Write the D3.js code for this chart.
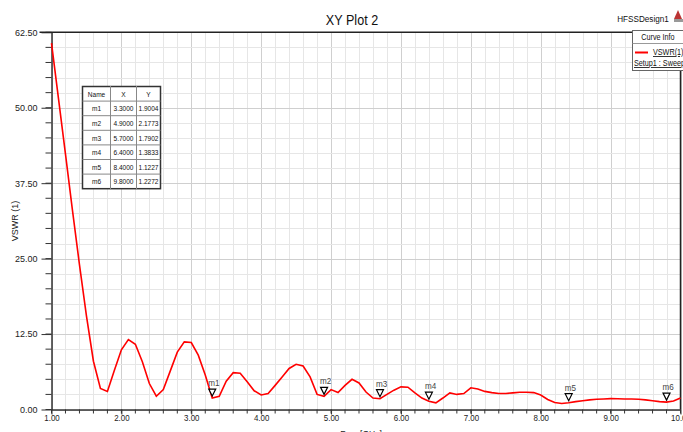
<!DOCTYPE html>
<html><head><meta charset="utf-8">
<script src="https://cdn.jsdelivr.net/npm/d3@7"></script>
<style>
html,body{margin:0;padding:0;background:#fff;}
svg{display:block;}
text{font-family:"Liberation Sans Narrow","Arial Narrow","Liberation Sans",Arial,sans-serif;}
</style></head>
<body><svg id="c" width="683" height="432"></svg>
<script>
const freq = [1.0,1.1,1.2,1.3,1.4,1.5,1.6,1.7,1.8,1.9,2.0,2.1,2.2,2.3,2.4,2.5,2.6,2.7,2.8,2.9,3.0,3.1,3.2,3.3,3.4,3.5,3.6,3.7,3.8,3.9,4.0,4.1,4.2,4.3,4.4,4.5,4.6,4.7,4.8,4.9,5.0,5.1,5.2,5.3,5.4,5.5,5.6,5.7,5.8,5.9,6.0,6.1,6.2,6.3,6.4,6.5,6.6,6.7,6.8,6.9,7.0,7.1,7.2,7.3,7.4,7.5,7.6,7.7,7.8,7.9,8.0,8.1,8.2,8.3,8.4,8.5,8.6,8.7,8.8,8.9,9.0,9.1,9.2,9.3,9.4,9.5,9.6,9.7,9.8,9.9,10.0];
const vswr = [60.7,51.5,42.3,33.0,24.0,15.5,8.0,3.5,3.0,6.5,9.9,11.6,10.8,7.9,4.3,2.2,3.3,6.4,9.5,11.2,11.1,9.0,5.7,1.9,2.2,4.7,6.1,6.0,4.6,3.1,2.4,2.65,4.0,5.4,6.8,7.5,7.2,5.4,2.5,2.18,3.3,2.8,4.0,5.0,4.4,2.9,1.9,1.79,2.5,3.2,3.75,3.7,2.75,1.9,1.38,1.1,1.9,2.75,2.5,2.65,3.6,3.4,3.0,2.8,2.65,2.65,2.75,2.85,2.85,2.8,2.4,1.65,1.15,1.0,1.12,1.3,1.45,1.6,1.7,1.75,1.8,1.78,1.75,1.75,1.7,1.6,1.45,1.3,1.23,1.4,1.9];
const markerNames = ["m1","m2","m3","m4","m5","m6"];
const markerX = [3.3,4.9,5.7,6.4,8.4,9.8];
const markerY = [1.9004,2.1773,1.7902,1.3833,1.1227,1.2272];
const xTicks = [1,2,3,4,5,6,7,8,9,10];
const yTicks = [0,12.5,25,37.5,50,62.5];
const title = "XY Plot 2";
const xLabel = "Freq [GHz]";
const yLabel = "VSWR (1)";

const svg = d3.select("#c");
const L = 51.5, R = 680.5, T = 32.3, B = 409.5;
const x = d3.scaleLinear().domain([1,10]).range([L,R]);
const y = d3.scaleLinear().domain([0,62.5]).range([B,T]);

// narrow text helper
function ntext(parent, px, py, str, size, anchor, sx, opts){
  const t = parent.append("text").attr("transform",`translate(${px},${py}) scale(${sx},1)`)
    .attr("text-anchor",anchor||"start").attr("font-size",size).attr("fill",(opts&&opts.fill)||"#111").text(str);
  if(opts&&opts.underline) t.attr("text-decoration","underline");
  return t;
}

// grid
const xMinor = d3.range(1,10.001,0.2);
const yMinor = d3.range(0,62.501,2.5);
const g = svg.append("g");
g.selectAll(".vx").data(xMinor).join("line")
  .attr("x1",d=>Math.round(x(d))+0.5).attr("x2",d=>Math.round(x(d))+0.5).attr("y1",T).attr("y2",B)
  .attr("stroke",d=>Math.abs(d-Math.round(d))<1e-6?"#cfcfcf":"#e6e6e6").attr("stroke-width",1);
g.selectAll(".hy").data(yMinor).join("line")
  .attr("y1",d=>Math.round(y(d))+0.5).attr("y2",d=>Math.round(y(d))+0.5).attr("x1",L).attr("x2",R)
  .attr("stroke",d=>Math.abs(d/12.5-Math.round(d/12.5))<1e-6?"#cfcfcf":"#e6e6e6").attr("stroke-width",1);

// axes
const xAxis = d3.axisBottom(x).tickValues(xTicks).tickFormat(d3.format(".2f")).tickSize(5).tickSizeOuter(0);
const gx = svg.append("g").attr("transform",`translate(0,${B})`).call(xAxis);
gx.select(".domain").attr("stroke","#333").attr("stroke-width",1.5);
gx.selectAll(".tick line").attr("stroke","#333");
gx.selectAll(".tick text").attr("font-size",9).attr("fill","#222").attr("dy","0.6em").attr("y",6)
  .attr("transform","scale(0.88,1)").attr("x",d=>0);
gx.selectAll(".mt").data(xMinor).join("line").attr("x1",d=>x(d)).attr("x2",d=>x(d)).attr("y1",0).attr("y2",4).attr("stroke","#333");

const yAxis = d3.axisLeft(y).tickValues(yTicks).tickFormat(d3.format(".2f")).tickSize(10).tickSizeOuter(0);
const gy = svg.append("g").attr("transform",`translate(${L},0)`).call(yAxis);
gy.select(".domain").attr("stroke","#333").attr("stroke-width",1.5);
gy.selectAll(".tick line").attr("stroke","#333");
gy.selectAll(".tick text").attr("font-size",9).attr("fill","#222").attr("x",-14);
gy.selectAll(".mt").data(yMinor).join("line").attr("x1",-6).attr("x2",0).attr("y1",d=>y(d)).attr("y2",d=>y(d)).attr("stroke","#333");

// frame top/right
svg.append("line").attr("x1",L-12).attr("x2",R).attr("y1",T).attr("y2",T).attr("stroke","#222").attr("stroke-width",1.5);
svg.append("line").attr("x1",R).attr("x2",R).attr("y1",T).attr("y2",B).attr("stroke","#222").attr("stroke-width",1.5);

// curve
const pts = freq.map((f,i)=>[f,vswr[i]]);
svg.append("path").datum(pts)
  .attr("d",d3.line().x(d=>x(d[0])).y(d=>y(d[1])))
  .attr("fill","none").attr("stroke","#ff0000").attr("stroke-width",1.6);

// markers
markerNames.forEach((n,i)=>{
  const cx = x(markerX[i]), cy = y(markerY[i]);
  svg.append("path").attr("d",`M${cx-3.5},${cy-9} L${cx+3.5},${cy-9} L${cx},${cy-2} Z`)
    .attr("fill","#fff").attr("stroke","#000").attr("stroke-width",1.2);
  ntext(svg, cx-4, cy-12, n, 9, "start", 0.9, {fill:"#444"});
});

// titles
ntext(svg, 352, 25, title, 15, "middle", 0.84);
ntext(svg, 643, 22, "HFSSDesign1", 9.5, "middle", 0.86);
svg.append("text").attr("transform","translate(18,221) rotate(-90)").attr("text-anchor","middle").attr("font-size",9).attr("fill","#222").text(yLabel);
ntext(svg, 361, 437, xLabel, 9.5, "middle", 0.9, {fill:"#222"});

// logo
svg.append("path").attr("d","M678,10 L682,19 L674,19 Z").attr("fill","#b33");
svg.append("rect").attr("x",674).attr("y",19).attr("width",9).attr("height",3).attr("fill","#999");

// legend
const lg = svg.append("g");
lg.append("rect").attr("x",632.5).attr("y",30.5).attr("width",52).attr("height",40).attr("fill","#fff").attr("stroke","#666");
lg.append("line").attr("x1",632.5).attr("x2",684).attr("y1",43.5).attr("y2",43.5).attr("stroke","#999");
ntext(lg, 658, 40, "Curve Info", 8.5, "middle", 0.85);
lg.append("line").attr("x1",635).attr("x2",648).attr("y1",52.5).attr("y2",52.5).attr("stroke","#ff0000").attr("stroke-width",2);
ntext(lg, 653, 55, "VSWR(1)", 8.5, "start", 0.85, {underline:true});
ntext(lg, 634, 66, "Setup1 : Sweep", 8.5, "start", 0.85, {underline:true});

// marker table
const tx = 82.5, ty = 86.5, colW = [28,26,24], rowH = 14.6;
const tg = svg.append("g");
const rows = [["Name","X","Y"]].concat(markerNames.map((n,i)=>[n, markerX[i].toFixed(4), markerY[i].toFixed(4)]));
const tw = d3.sum(colW), th = rowH*rows.length;
tg.append("rect").attr("x",tx).attr("y",ty).attr("width",tw).attr("height",th).attr("fill","#fff").attr("stroke","#333").attr("stroke-width",1.5);
rows.forEach((r,ri)=>{
  if(ri>0) tg.append("line").attr("x1",tx).attr("x2",tx+tw).attr("y1",ty+ri*rowH).attr("y2",ty+ri*rowH).attr("stroke","#888");
  let cx = tx;
  r.forEach((c,ci)=>{
    if(ci>0) tg.append("line").attr("x1",cx).attr("x2",cx).attr("y1",ty).attr("y2",ty+th).attr("stroke","#888");
    ntext(tg, cx+colW[ci]/2, ty+ri*rowH+rowH/2+3, c, 8, "middle", 0.82);
    cx += colW[ci];
  });
});
</script></body></html>
